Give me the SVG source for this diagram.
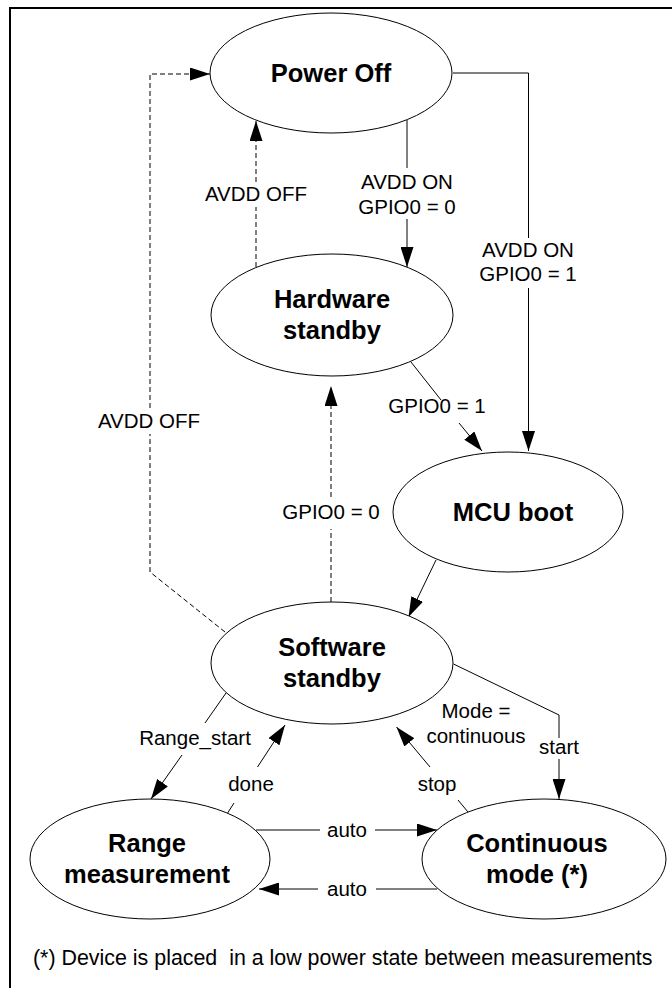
<svg xmlns="http://www.w3.org/2000/svg" width="672" height="988" viewBox="0 0 672 988">
<defs>
<style>
.node ellipse{fill:#fff;stroke:#000;stroke-width:1}
.nt{font-family:"Liberation Sans",Arial,sans-serif;font-weight:bold;font-size:25.5px;fill:#000;text-anchor:middle}
.lbl{font-family:"Liberation Sans",Arial,sans-serif;font-size:20.5px;fill:#000;text-anchor:middle}
.c{fill:none;stroke:#000;stroke-width:1}
.d{stroke-dasharray:5,3}
</style>
<marker id="ah" markerUnits="userSpaceOnUse" markerWidth="20" markerHeight="13" refX="20" refY="6.5" orient="auto"><path d="M0,0 L20,6.5 L0,13 z" fill="#000"/></marker>
</defs>
<rect width="672" height="988" fill="#fff"/>
<path d="M10,988 V8 H672" fill="none" stroke="#000" stroke-width="2"/>

<g id="connectors">
<!-- Power Off -> Hardware standby -->
<path class="c" d="M407,120 V168"/>
<path class="c" d="M407,219 V267" marker-end="url(#ah)"/>
<!-- Power Off -> MCU boot -->
<path class="c" d="M453,73 H528.5 V238"/>
<path class="c" d="M528.5,288 V451" marker-end="url(#ah)"/>
<!-- Hardware standby -> Power Off (AVDD OFF) -->
<path class="c d" d="M256,267 V207"/>
<path class="c d" d="M256,182 V121" marker-end="url(#ah)"/>
<!-- Hardware standby -> MCU boot (GPIO0 = 1) -->
<path class="c" d="M411,362 L441,400"/>
<path class="c" d="M459,423 L482,451" marker-end="url(#ah)"/>
<!-- MCU boot -> Software standby -->
<path class="c" d="M436,560 L408.5,617" marker-end="url(#ah)"/>
<!-- Software standby -> Hardware standby (GPIO0 = 0) -->
<path class="c d" d="M331,602 V529"/>
<path class="c d" d="M331,497 V386" marker-end="url(#ah)"/>
<!-- Software standby -> Power Off (AVDD OFF) -->
<path class="c d" d="M225,632 L150,572 V434"/>
<path class="c d" d="M150,408 V74 H210" marker-end="url(#ah)"/>
<!-- Software standby -> Continuous mode (start) -->
<path class="c" d="M453.5,664 L559,715 V738"/>
<path class="c" d="M559,759 V799" marker-end="url(#ah)"/>
<!-- Continuous mode -> Software standby (stop) -->
<path class="c" d="M468,812 L458,800"/>
<path class="c" d="M430,767 L396.5,727" marker-end="url(#ah)"/>
<!-- Software standby -> Range measurement (Range_start) -->
<path class="c" d="M226,693 L205,723"/>
<path class="c" d="M182,755 L151,799" marker-end="url(#ah)"/>
<!-- Range measurement -> Software standby (done) -->
<path class="c" d="M227,814 L234,803"/>
<path class="c" d="M257.5,767 L285,725" marker-end="url(#ah)"/>
<!-- Range measurement -> Continuous mode (auto) -->
<path class="c" d="M256,830 H320"/>
<path class="c" d="M375,830 H437" marker-end="url(#ah)"/>
<!-- Continuous mode -> Range measurement (auto) -->
<path class="c" d="M437,889 H376"/>
<path class="c" d="M318,889 H259" marker-end="url(#ah)"/>

<text class="lbl" x="256" y="201">AVDD OFF</text>
<text class="lbl" x="407" y="189">AVDD ON</text>
<text class="lbl" x="407" y="214">GPIO0 = 0</text>
<text class="lbl" x="528" y="257">AVDD ON</text>
<text class="lbl" x="528" y="281">GPIO0 = 1</text>
<text class="lbl" x="437" y="413">GPIO0 = 1</text>
<text class="lbl" x="149" y="428">AVDD OFF</text>
<text class="lbl" x="331" y="519">GPIO0 = 0</text>
<text class="lbl" x="476" y="718">Mode =</text>
<text class="lbl" x="476" y="743">continuous</text>
<text class="lbl" x="559" y="754">start</text>
<text class="lbl" x="195" y="745">Range_start</text>
<text class="lbl" x="251" y="791">done</text>
<text class="lbl" x="437" y="791">stop</text>
<text class="lbl" x="347" y="837">auto</text>
<text class="lbl" x="347" y="896">auto</text>
</g>

<g id="power-off" class="node">
<ellipse cx="331" cy="73" rx="121" ry="60"/>
<text class="nt" x="331" y="82">Power Off</text>
</g>
<g id="hardware-standby" class="node">
<ellipse cx="332" cy="315" rx="121" ry="61"/>
<text class="nt" x="332" y="308">Hardware</text>
<text class="nt" x="332" y="339">standby</text>
</g>
<g id="mcu-boot" class="node">
<ellipse cx="508" cy="512" rx="115" ry="60"/>
<text class="nt" x="513" y="521">MCU boot</text>
</g>
<g id="software-standby" class="node">
<ellipse cx="332" cy="663" rx="121" ry="61"/>
<text class="nt" x="332" y="656">Software</text>
<text class="nt" x="332" y="687">standby</text>
</g>
<g id="range-measurement" class="node">
<ellipse cx="150" cy="859" rx="120" ry="60"/>
<text class="nt" x="147" y="852">Range</text>
<text class="nt" x="147" y="883">measurement</text>
</g>
<g id="continuous-mode" class="node">
<ellipse cx="544" cy="859" rx="122" ry="60"/>
<text class="nt" x="537" y="852">Continuous</text>
<text class="nt" x="537" y="883">mode (*)</text>
</g>

<text id="footnote" x="33" y="965" xml:space="preserve" style="font-family:'Liberation Sans',Arial,sans-serif;font-size:21.4px;fill:#000">(*) Device is placed  in a low power state between measurements</text>
</svg>
